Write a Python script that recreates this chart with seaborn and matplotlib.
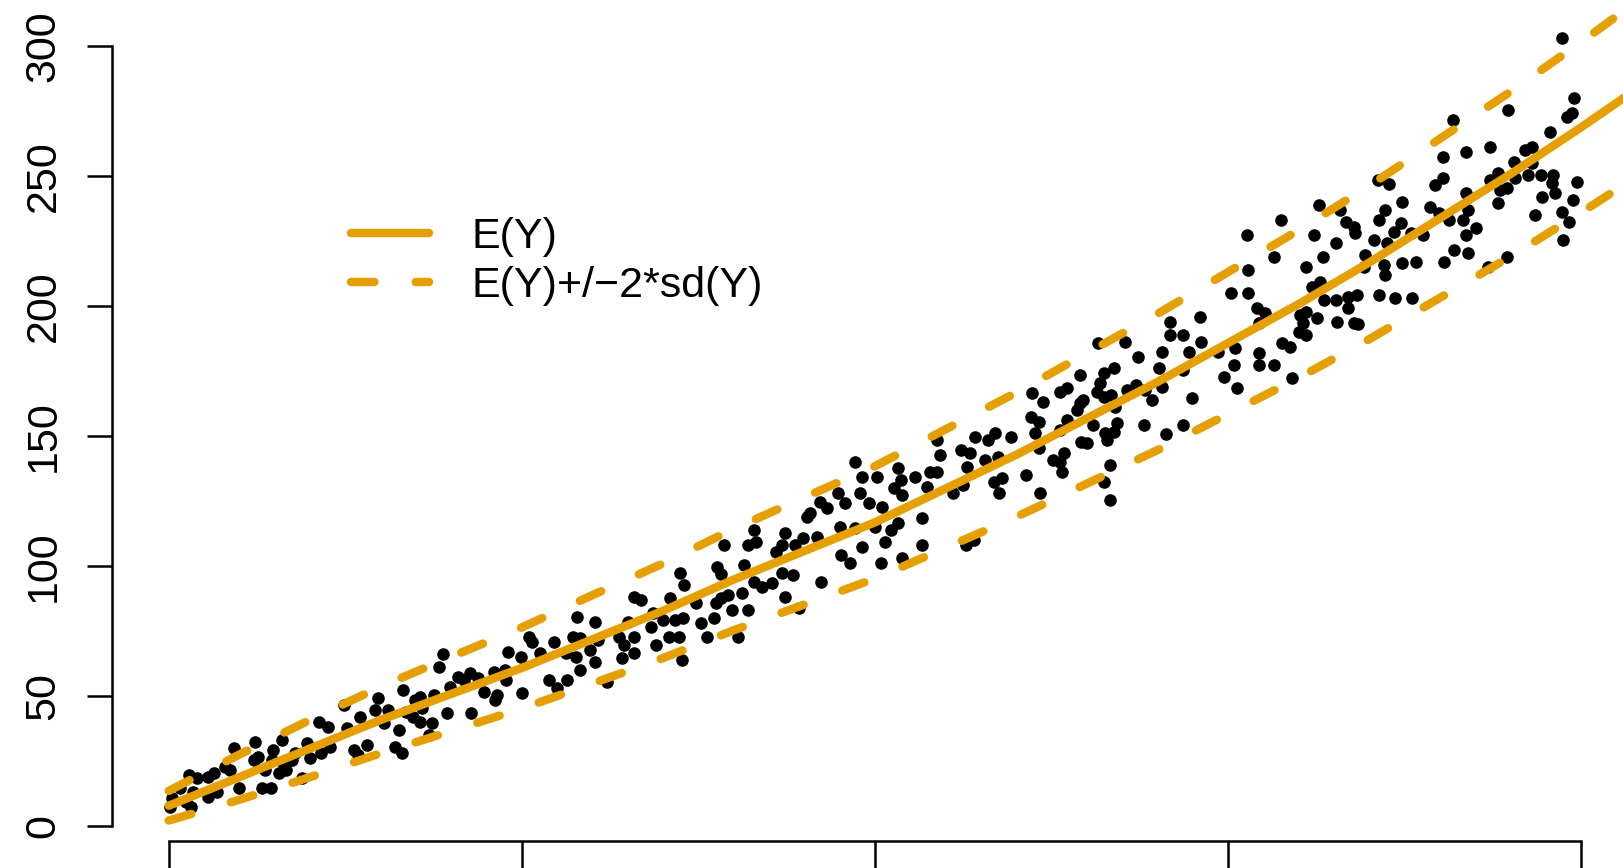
import matplotlib
matplotlib.use('Agg')
import matplotlib.pyplot as plt
import seaborn as sns
import pandas as pd

# points, chunk by chunk from left to right
seg1_x = [0.1, 0.8, 1.4, 2.0, 1.7, 1.2, 1.6, 2.8, 3.2, 2.8, 3.4, 4.0, 4.6, 4.3, 5.0, 6.1, 6.3, 6.0, 6.6, 7.2,
          6.8, 7.4, 7.3, 8.0, 8.1, 7.8, 8.3, 8.7, 8.9, 9.4, 9.8, 10.0, 10.6, 11.3, 10.8, 11.4, 0.2]
seg1_y = [7.6, 14.7, 19.8, 18.5, 13.4, 9.5, 7.6, 19.2, 20.4, 11.4, 13.4, 23.0, 30.1, 21.7, 14.7, 32.6, 26.9, 25.6, 14.7, 14.7,
          21.7, 29.4, 25.6, 33.3, 24.3, 20.4, 21.7, 25.6, 28.1, 18.5, 32.0, 26.2, 40.3, 38.4, 28.1, 30.7, 11.0]

seg2_x = [12.4, 12.6, 13.5, 13.1, 13.4, 14.0, 14.6, 14.8, 15.5, 15.2, 16.0, 16.5, 16.3, 16.6, 16.8, 17.4, 17.8, 17.9, 17.3, 17.8,
          18.4, 18.6, 18.8, 19.1, 19.4, 19.7, 19.9, 20.5, 20.9, 21.3, 21.4, 21.9, 22.3, 23.1, 23.2, 23.0, 23.8, 23.9, 24.0]
seg2_y = [46.7, 37.7, 42.2, 29.4, 27.5, 31.3, 44.8, 49.3, 44.8, 39.7, 30.7, 28.1, 37.1, 52.5, 44.2, 48.7, 49.9, 45.4, 42.2, 40.3,
          35.2, 39.7, 50.6, 61.5, 66.3, 43.5, 53.8, 57.6, 56.3, 58.9, 43.5, 57.0, 51.8, 48.7, 50.6, 59.5, 60.2, 56.3, 67.2]

seg3_x = [25.0, 24.9, 25.5, 25.7, 26.3, 26.9, 27.5, 27.3, 28.1, 28.2, 28.9, 28.6, 29.1, 28.8, 29.1, 29.8, 30.2, 30.4, 30.2, 31.0,
          31.9, 32.2, 32.1, 32.5, 32.9, 32.9, 32.9, 33.4, 34.1, 34.3, 34.5, 35.0, 35.4, 35.5, 35.8, 36.1, 36.3, 36.2, 36.5, 36.4,
          37.3]
seg3_y = [51.2, 65.3, 73.0, 71.1, 66.6, 56.3, 53.1, 71.1, 66.6, 56.3, 80.7, 73.0, 72.4, 65.3, 60.2, 67.9, 78.8, 71.7, 63.4, 55.7,
          73.0, 69.8, 64.7, 78.8, 73.0, 66.6, 88.4, 87.1, 76.9, 82.0, 69.8, 79.4, 73.0, 87.8, 79.4, 73.0, 64.0, 97.4, 92.9, 80.1,
          85.8]

seg4_x = [37.7, 38.1, 38.6, 38.7, 39.1, 39.6, 38.8, 39.1, 39.3, 39.9, 40.6, 40.7, 41.0, 40.3, 41.4, 41.6, 41.0, 41.4, 42.0, 42.7,
          43.0, 43.4, 43.6, 43.4, 43.6, 44.2, 44.3, 44.9, 44.6, 45.2, 45.4, 45.9, 46.2, 46.1, 46.6, 47.4, 47.9, 47.5, 47.6, 48.2,
          48.6, 48.6, 49.1, 48.9, 49.1, 49.6, 50.1, 50.0, 50.4]
seg4_y = [78.1, 73.0, 80.1, 85.8, 87.8, 89.0, 99.9, 97.1, 108.3, 83.3, 89.7, 100.6, 83.3, 73.0, 114.0, 109.5, 108.3, 94.2, 92.2, 93.5,
          105.7, 108.3, 112.8, 97.4, 88.4, 96.7, 108.3, 110.8, 83.9, 119.2, 120.4, 111.5, 94.2, 124.9, 122.4, 128.1, 124.3, 115.0, 104.4, 101.2,
          140.3, 114.7, 134.6, 128.1, 107.6, 124.3, 134.6, 115.3, 101.2]

seg5_x = [51.6, 51.8, 51.3, 51.9, 50.5, 51.1, 51.6, 50.7, 51.9, 52.8, 53.3, 53.3, 53.7, 53.9, 54.4, 54.4, 54.6, 55.5, 56.1, 56.7,
          56.5, 56.4, 57.0, 56.2, 57.1, 58.0, 58.5, 57.8, 58.4, 59.0, 58.8, 58.7, 59.6, 60.7, 61.1, 61.9, 61.0, 61.6, 61.3, 61.6,
          61.7, 62.6]
seg5_y = [137.8, 133.3, 130.1, 127.5, 123.0, 114.0, 116.6, 109.5, 103.1, 134.5, 118.5, 108.3, 130.7, 136.5, 136.5, 148.7, 142.9, 128.1, 144.8, 143.5,
          138.4, 108.3, 110.2, 131.3, 149.9, 148.7, 151.2, 141.0, 132.6, 133.9, 128.1, 142.2, 149.9, 135.2, 166.6, 163.4, 157.6, 155.7, 151.2, 145.4,
          128.1, 140.9]

seg6_x = [63.1, 63.6, 64.5, 64.5, 64.7, 64.3, 63.6, 63.1, 64.6, 65.0, 63.4, 63.1, 63.2, 65.4, 65.8, 66.2, 65.9, 65.7, 66.2, 66.9,
          66.7, 67.0, 67.1, 66.9, 66.3, 66.4, 66.6, 66.2, 66.6, 67.7, 67.8, 68.5, 68.6, 69.1, 69.6, 69.0, 70.1, 70.3, 70.3, 70.6,
          70.9, 70.9, 71.8, 71.8, 72.2, 72.4, 71.8, 73.0, 73.1, 74.3, 74.7, 75.2, 75.5, 75.4, 75.6]
seg6_y = [167.2, 168.5, 173.6, 162.8, 164.0, 160.2, 156.4, 152.5, 148.0, 147.4, 143.5, 140.3, 136.5, 154.4, 185.8, 174.3, 170.4, 167.2, 165.3, 176.2,
          165.9, 161.5, 155.1, 151.9, 151.2, 148.7, 139.0, 132.6, 125.6, 186.5, 167.9, 169.8, 180.4, 167.9, 164.0, 154.4, 176.2, 182.6, 169.2, 150.9,
          194.2, 189.0, 189.0, 175.6, 182.6, 164.7, 154.4, 196.1, 186.5, 182.6, 173.0, 205.1, 183.9, 177.5, 168.5]

seg7_x = [76.3, 76.4, 76.4, 77.0, 77.6, 77.2, 77.2, 77.2, 78.2, 78.2, 78.7, 78.8, 79.4, 79.5, 80.5, 81.1, 81.4, 81.7, 80.9, 81.5,
          80.1, 80.5, 80.3, 80.0, 80.5, 81.3, 81.8, 82.6, 82.6, 82.7, 82.9, 83.3, 83.9, 84.0, 83.5, 84.1, 83.5, 83.9, 84.2, 84.7,
          84.6, 85.3, 85.7, 86.1, 85.6, 86.4, 86.0, 86.1, 85.7, 86.2, 86.7, 87.3, 87.2, 87.3, 86.8, 87.9, 88.0, 88.3]
seg7_y = [227.5, 214.0, 205.1, 199.3, 197.4, 193.5, 182.0, 177.5, 177.5, 219.2, 233.3, 185.8, 184.5, 172.4, 215.3, 227.5, 239.0, 219.2, 207.6, 209.5,
          196.7, 198.0, 193.5, 190.3, 189.0, 195.4, 202.5, 202.5, 224.3, 194.2, 237.1, 232.6, 230.7, 228.4, 203.8, 204.4, 199.3, 193.5, 193.3, 219.8,
          215.1, 225.6, 233.3, 237.1, 248.6, 247.1, 216.0, 212.1, 204.4, 224.3, 228.8, 240.3, 232.0, 216.6, 203.1, 228.1, 203.1, 217.2]

seg8_x = [98.6, 99.5, 99.3, 99.0, 97.8, 94.8, 90.9, 93.5, 91.8, 90.2, 96.0, 96.5, 96.5, 95.2, 90.2, 89.6, 93.5, 94.1, 95.3, 94.2,
          94.7, 94.1, 96.2, 97.1, 98.0, 97.9, 98.1, 97.2, 99.7, 99.4, 98.6, 99.1, 96.7, 98.7, 91.8, 89.3, 89.9, 90.6, 92.0, 91.6,
          92.5, 91.8, 88.8, 91.0, 92.0, 90.3, 93.4, 94.7]
seg8_y = [303.1, 280.1, 274.3, 272.8, 267.2, 275.6, 271.7, 261.5, 259.5, 257.6, 260.2, 261.5, 255.1, 255.7, 249.3, 246.7, 248.7, 251.2, 249.3, 244.8,
          245.4, 239.7, 250.6, 250.6, 250.6, 247.4, 243.5, 242.2, 248.0, 241.0, 236.5, 232.6, 235.2, 225.6, 243.5, 238.4, 235.8, 233.3, 237.1, 233.3,
          230.1, 227.5, 227.5, 221.7, 220.4, 217.0, 215.3, 219.2]

pts_x = seg1_x + seg2_x + seg3_x + seg4_x + seg5_x + seg6_x + seg7_x + seg8_x
pts_y = seg1_y + seg2_y + seg3_y + seg4_y + seg5_y + seg6_y + seg7_y + seg8_y
assert len(pts_x) == len(pts_y)

# E(Y) and the two dashed bands, read at steps of 5
curve_x = [0, 5, 10, 15, 20, 25, 30, 35, 40, 45, 50, 55, 60, 65, 70, 75, 80, 85, 90, 95, 100, 104]
mean_y = [8, 19, 30, 41, 51, 61, 72, 83, 95, 106, 117, 130, 143, 157, 171, 186, 201, 217, 234, 251, 269, 284]
upper_y = [13.7, 27.7, 41, 53.8, 65.3, 76.6, 89, 101.2, 114.5, 126.6, 138.6, 152.8, 166.9, 182.1, 197.2, 213.3,
           229.4, 246.5, 264.6, 282.7, 301.8, 317.7]
lower_y = [2.3, 10.3, 19, 28.2, 36.7, 45.4, 55, 64.8, 75.5, 85.4, 95.4, 107.2, 119.1, 131.9, 144.8, 158.7,
           172.6, 187.5, 203.4, 219.3, 236.2, 250.3]

y_ticks = [0, 50, 100, 150, 200, 250, 300]
x_ticks = [0, 25, 50, 75, 100]

sns.set_style('white')
plt.rcParams['font.family'] = ['Liberation Sans', 'DejaVu Sans']
plt.rcParams['text.color'] = 'black'

W, H = 1624, 868
fig = plt.figure(figsize=(W / 100, H / 100), dpi=100)
ax = fig.add_axes([112.3 / W, 27 / H, 1 - 112.3 / W, 841 / H])
orange = '#E69F00'
lw = 6.1

pts = pd.DataFrame({'x': pts_x, 'y': pts_y})
sns.scatterplot(data=pts, x='x', y='y', color='black', s=82, linewidth=0, ax=ax, zorder=2)

sns.lineplot(x=curve_x, y=mean_y, color=orange, linewidth=lw, solid_capstyle='round',
             label='E(Y)', ax=ax, zorder=3)
sns.lineplot(x=curve_x, y=upper_y, color=orange, linewidth=lw, linestyle=(0, (2.76, 4.88)),
             dash_capstyle='round', label='E(Y)+/\u22122*sd(Y)', ax=ax, zorder=3)
sns.lineplot(x=curve_x, y=lower_y, color=orange, linewidth=lw, linestyle=(0, (2.76, 4.88)),
             dash_capstyle='round', label='_nolegend_', ax=ax, zorder=3)

ax.set_xlim(-4, 103.01)
ax.set_ylim(-5.58, 317.88)
ax.set_xlabel('')
ax.set_ylabel('')

for side in ['top', 'right']:
    ax.spines[side].set_visible(False)
for side in ['left', 'bottom']:
    ax.spines[side].set_color('black')
    ax.spines[side].set_linewidth(1.8)
ax.spines['left'].set_bounds(0, 300)
ax.spines['bottom'].set_bounds(0, 100)

ax.set_xticks(x_ticks)
ax.set_xticklabels([''] * len(x_ticks))
ax.set_yticks(y_ticks)
ax.set_yticklabels([str(v) for v in y_ticks])
ax.tick_params(axis='both', which='major', bottom=True, left=True, direction='out',
               color='black', width=1.8, labelcolor='black')
ax.tick_params(axis='x', length=20)
ax.tick_params(axis='y', length=18, pad=17, labelsize=31)
for lab in ax.get_yticklabels():
    lab.set_rotation(90)
    lab.set_va('center')

leg = ax.legend(loc='upper left', bbox_to_anchor=(351 / W, 1 - 217 / H), bbox_transform=fig.transFigure,
                frameon=False, fontsize=31, handlelength=1.81, handletextpad=1.0, labelspacing=0.22,
                borderpad=0, borderaxespad=0)
for t in leg.get_texts():
    t.set_color('black')

fig.savefig('out.png', dpi=100)
